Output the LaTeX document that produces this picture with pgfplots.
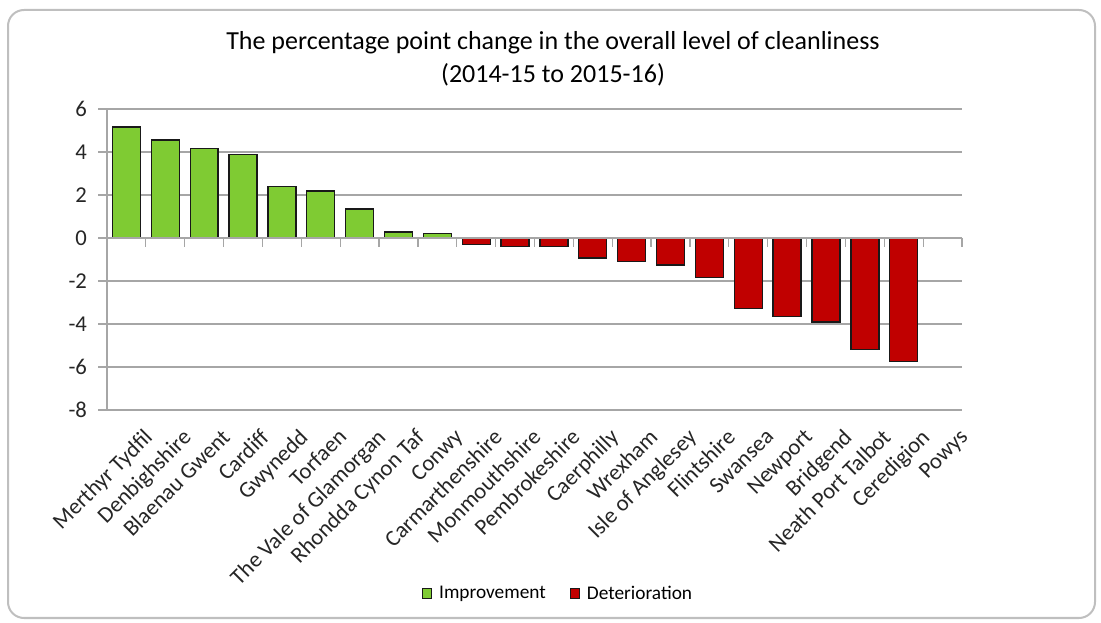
\documentclass[border=0pt]{standalone}
\usepackage{pgfplots}
\pgfplotsset{compat=1.18}
\usepackage{fontspec}
\setmainfont{Carlito}
\definecolor{impgreen}{HTML}{7FCB33}
\definecolor{detred}{HTML}{C00000}
\definecolor{gridgray}{HTML}{A6A6A6}
\definecolor{framegray}{HTML}{BFBFBF}
\begin{document}
\begin{tikzpicture}
\path (0,0) rectangle (825.75pt,466.5pt);
\draw[framegray, line width=1.5pt, rounded corners=12pt] (6pt,3pt) rectangle (821.25pt,459pt);
\node[font=\fontsize{19.5}{22}\selectfont] at (414.75pt,434.25pt) {The percentage point change in the overall level of cleanliness};
\node[font=\fontsize{19.5}{22}\selectfont] at (414.75pt,410.25pt) {(2014-15 to 2015-16)};
\begin{axis}[
  at={(80.25pt,159pt)}, anchor=south west,
  width=641.25pt, height=225.75pt, scale only axis,
  xmin=-0.5, xmax=21.5, ymin=-8, ymax=6,
  ytick={-8,-6,...,6},
  xtick={0,...,21},
  xticklabels={Merthyr Tydfil,Denbighshire,Blaenau Gwent,Cardiff,Gwynedd,Torfaen,The Vale of Glamorgan,Rhondda Cynon Taf,Conwy,Carmarthenshire,Monmouthshire,Pembrokeshire,Caerphilly,Wrexham,Isle of Anglesey,Flintshire,Swansea,Newport,Bridgend,Neath Port Talbot,Ceredigion,Powys},
  xticklabel style={rotate=45, anchor=north east, inner sep=1pt, font=\fontsize{17}{20}\selectfont, text=black!85, xshift=5pt, yshift=-12pt},
  x axis line style={draw=none},
  xtick style={draw=none},
  ymajorgrids, grid style={gridgray, line width=0.9pt},
  axis x line*=bottom,
  axis y line*=left,
  y axis line style={gridgray, line width=0.9pt, -},
  ytick style={gridgray, line width=0.9pt},
  tick align=outside, major tick length=6.5pt,
  yticklabel style={font=\fontsize{17}{20}\selectfont, text=black!85, xshift=-5pt},
  /pgf/number format/assume math mode=true,
  ybar, bar width=0.72, bar shift=0pt,
  clip=false,
  legend style={at={(0.528,-0.61)}, anchor=center, draw=none, fill=none,
    legend columns=2, font=\fontsize{14.5}{17}\selectfont,
    /tikz/every odd column/.append style={column sep=3pt},
    /tikz/every even column/.append style={column sep=16pt}},
  legend image code/.code={\draw[#1, line width=0.8pt] (0pt,-3.5pt) rectangle (7pt,3.5pt);},
]
\addplot[fill=impgreen, draw=black!90, line width=1pt] coordinates {
 (0,5.16) (1,4.55) (2,4.16) (3,3.87) (4,2.41) (5,2.19) (6,1.35) (7,0.28) (8,0.2)};
\addlegendentry{Improvement}
\addplot[fill=detred, draw=black!90, line width=1pt] coordinates {
 (9,-0.29) (10,-0.39) (11,-0.39) (12,-0.93) (13,-1.1) (14,-1.26) (15,-1.83)
 (16,-3.27) (17,-3.66) (18,-3.91) (19,-5.19) (20,-5.74)};
\addlegendentry{Deterioration}
\draw[gridgray, line width=0.9pt] (axis cs:-0.5,0) -- (axis cs:21.5,0);
\pgfplotsinvokeforeach{0.5,1.5,2.5,3.5,4.5,5.5,6.5,7.5,8.5,9.5,10.5,11.5,12.5,13.5,14.5,15.5,16.5,17.5,18.5,19.5,20.5,21.5}{
  \draw[gridgray, line width=0.9pt] (axis cs:#1,0) -- ++(0pt,-6.5pt);
}
\end{axis}
\end{tikzpicture}
\end{document}
